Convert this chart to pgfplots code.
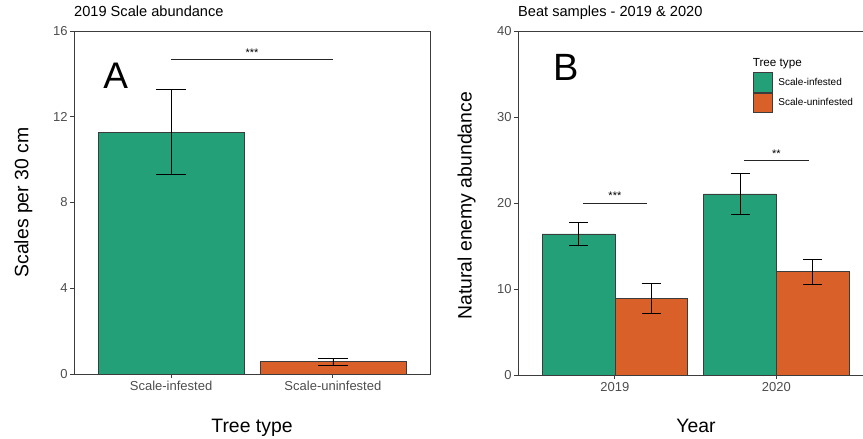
\documentclass[border=0pt]{standalone}
\usepackage{fontspec}
\setmainfont{Liberation Sans}
\usepackage{pgfplots}
\pgfplotsset{compat=1.18}
\definecolor{dgreen}{HTML}{23A077}
\definecolor{dorange}{HTML}{D96029}
\definecolor{tickgray}{HTML}{4D4D4D}
\definecolor{framegray}{HTML}{3C3C3C}
\begin{document}
\begin{tikzpicture}
\useasboundingbox (0,0) rectangle (863pt,439pt);
\pgfplotsset{
  common/.style={
    scale only axis, anchor=south west, clip=false,
    /pgf/number format/assume math mode=true,
    axis line style={framegray, line width=0.9pt},
    tick align=outside, major tick length=3.7pt,
    tick style={framegray, line width=0.9pt},
    xtick pos=bottom, ytick pos=left,
    tick label style={font=\fontsize{13}{13}\selectfont, color=tickgray},
    xticklabel style={anchor=base, inner sep=0pt, yshift=-12.5pt},
    yticklabel style={anchor=east, inner sep=0pt, xshift=-2.5pt},
    title style={anchor=base west, inner sep=0pt, font=\fontsize{14.6}{15}\selectfont},
    label style={font=\fontsize{19.4}{20}\selectfont, inner sep=0pt},
    ymin=0, xmin=0.4,
  },
  ebar/.style={error bars/.cd, y dir=both, y explicit,
    error bar style={black, line width=0.7pt},
    error mark options={black, line width=0.7pt, rotate=90, mark size=#1}},
  barA/.style={ybar, bar width=146pt, bar shift=0pt, draw=framegray, line width=0.7pt},
  barB/.style={ybar, bar width=72.7pt, bar shift=0pt, draw=framegray, line width=0.7pt},
}
% ---------------- Panel A ----------------
\begin{axis}[common,
  at={(74pt,65pt)}, width=356pt, height=343pt,
  xmax=2.6, ymax=16, ytick={0,4,8,12,16},
  xtick={1,2}, xticklabels={Scale-infested,Scale-uninfested},
  title={2019 Scale abundance},
  title style={at={(axis description cs:0,1)}, yshift=8.3pt},
  xlabel={Tree type},
  xlabel style={at={(axis description cs:0.5,0)}, anchor=base, yshift=-58.3pt},
  ylabel={Scales per 30 cm},
  ylabel style={at={(axis description cs:0,0.5)}, anchor=base, yshift=45.5pt},
]
\addplot[barA, fill=dgreen, ebar=15.3pt]
  coordinates {(1,11.29) +- (0,2.0)};
\addplot[barA, fill=dorange, ebar=15.3pt]
  coordinates {(2,0.57) +- (0,0.18)};
\addplot[black!85, line width=0.7pt, mark=none] coordinates {(1,14.7) (2,14.7)};
\node[anchor=base, inner sep=0pt, font=\fontsize{11}{11}\selectfont] at (axis cs:1.5,14.82) {***};
\node[anchor=base west, inner sep=0pt, font=\fontsize{37}{37}\selectfont] at (axis cs:0.581,13.33) {A};
\end{axis}
% ---------------- Panel B ----------------
\begin{axis}[common,
  at={(518pt,64pt)}, width=346pt, height=344pt,
  xmax=2.5424, ymax=40, ytick={0,10,20,30,40},
  xtick={1,2}, xticklabels={2019,2020},
  title={Beat samples - 2019 \& 2020},
  title style={at={(axis description cs:0,1)}, yshift=8.3pt},
  xlabel={Year},
  xlabel style={at={(axis description cs:0.5145,0)}, anchor=base, yshift=-58pt},
  ylabel={Natural enemy abundance},
  ylabel style={at={(axis description cs:0,0.492)}, anchor=base, yshift=46.3pt},
  legend image code/.code={\draw[#1] (0pt,-9.7pt) rectangle (19pt,9.7pt);},
  legend style={at={(axis description cs:0.678,0.880)}, anchor=north west,
    draw=none, fill=none, inner sep=0pt, row sep=0pt,
    nodes={inner sep=0pt, font=\fontsize{10}{10}\selectfont},
    /tikz/every odd column/.append style={column sep=6pt}},
  legend cell align=left,
]
\addplot[barB, fill=dgreen, forget plot, ebar=9.5pt]
  coordinates {(0.775,16.4) +- (0,1.3) (1.775,21.05) +- (0,2.35)};
\addplot[barB, fill=dorange, forget plot, ebar=9.5pt]
  coordinates {(1.225,8.9) +- (0,1.75) (2.225,12.0) +- (0,1.45)};
\addlegendimage{fill=dgreen, draw=framegray, line width=0.7pt}
\addlegendentry{Scale-infested}
\addlegendimage{fill=dorange, draw=framegray, line width=0.7pt}
\addlegendentry{Scale-uninfested}
\addplot[black!85, line width=0.7pt, mark=none, forget plot] coordinates {(0.8,20) (1.2,20)};
\addplot[black!85, line width=0.7pt, mark=none, forget plot] coordinates {(1.8,25) (2.2,25)};
\node[anchor=base, inner sep=0pt, font=\fontsize{11}{11}\selectfont] at (axis cs:1,20.4) {***};
\node[anchor=base, inner sep=0pt, font=\fontsize{11}{11}\selectfont] at (axis cs:2,25.31) {**};
\node[anchor=base west, inner sep=0pt, font=\fontsize{38}{38}\selectfont] at (axis cs:0.619,34.3) {B};
\node[anchor=base west, inner sep=0pt, font=\fontsize{11.7}{12}\selectfont] at (axis description cs:0.678,0.896) {Tree type};
\end{axis}
\end{tikzpicture}
\end{document}
